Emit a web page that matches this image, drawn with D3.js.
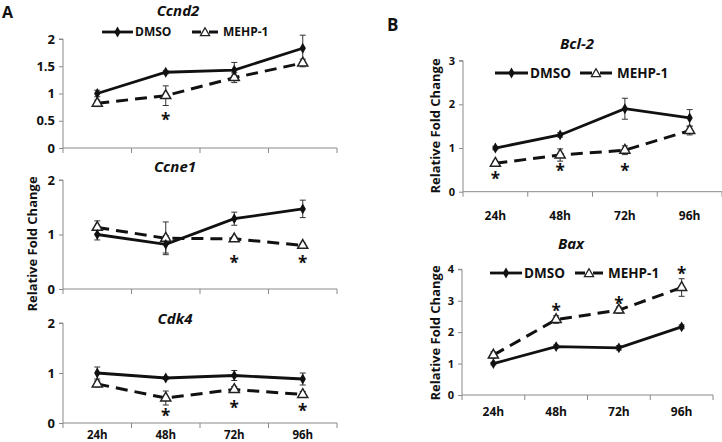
<!DOCTYPE html>
<html><head><meta charset="utf-8">
<script src="https://cdn.jsdelivr.net/npm/d3@7/dist/d3.min.js"></script>
<style>body{margin:0;background:#fff}svg{display:block;font-family:"Open Sans",sans-serif}</style>
</head><body><svg id="c" width="722" height="442"></svg>
<script>
const timepoints = ["24h","48h","72h","96h"];
const seriesNames = ["DMSO","MEHP-1"];

const ccnd2Dmso = [1.0, 1.39, 1.43, 1.83];
const ccnd2DmsoErr = [0.06, 0.03, 0.14, 0.24];
const ccnd2Mehp = [0.82, 0.96, 1.29, 1.56];
const ccnd2MehpErr = [0.06, 0.18, 0.09, 0.07];
const ccnd2Star = [null, 0.57, null, null];
const ccnd2Ticks = [0, 0.5, 1, 1.5, 2];

const ccne1Dmso = [1.0, 0.82, 1.29, 1.47];
const ccne1DmsoErr = [0.1, 0.16, 0.12, 0.16];
const ccne1Mehp = [1.13, 0.93, 0.92, 0.8];
const ccne1MehpErr = [0.12, 0.3, 0.04, 0.04];
const ccne1Star = [null, null, 0.53, 0.53];
const ccne1Ticks = [0, 1, 2];

const cdk4Dmso = [1.0, 0.9, 0.95, 0.88];
const cdk4DmsoErr = [0.12, 0.03, 0.1, 0.12];
const cdk4Mehp = [0.78, 0.5, 0.67, 0.57];
const cdk4MehpErr = [0.06, 0.14, 0.06, 0.06];
const cdk4Star = [null, 0.2, 0.36, 0.3];
const cdk4Ticks = [0, 1, 2];

const bcl2Dmso = [1.0, 1.3, 1.9, 1.69];
const bcl2DmsoErr = [0.04, 0.05, 0.24, 0.19];
const bcl2Mehp = [0.65, 0.84, 0.95, 1.4];
const bcl2MehpErr = [0.05, 0.14, 0.1, 0.1];
const bcl2Star = [0.36, 0.54, 0.54, null];
const bcl2Ticks = [0, 1, 2, 3];

const baxDmso = [1.0, 1.54, 1.5, 2.17];
const baxDmsoErr = [0.04, 0.05, 0.07, 0.06];
const baxMehp = [1.27, 2.4, 2.7, 3.42];
const baxMehpErr = [0.1, 0.12, 0.1, 0.28];
const baxStar = [null, 2.78, 3.0, 3.93];
const baxTicks = [0, 1, 2, 3, 4];

const svg = d3.select("#c");
const AX = "#8a8a8a";

function panel(o) {
  const g = svg.append("g");
  const x = d3.scaleBand().domain(timepoints).range([o.x0, o.x1]);
  const y = d3.scaleLinear().domain([0, o.ymax]).range([o.yb, o.yt]);
  const ya = g.append("g").attr("transform", `translate(${o.x0},0)`)
    .call(d3.axisLeft(y).tickValues(o.ticks).tickSize(4).tickPadding(4).tickFormat(d3.format("~g")));
  ya.select(".domain").attr("stroke", AX).attr("d", `M-4,${o.yt}H0V${o.yb}`);
  ya.selectAll(".tick line").attr("stroke", AX);
  ya.selectAll("text").attr("font-size", o.tfs).attr("font-weight", "bold").attr("fill", "#111").attr("font-family", "Open Sans");
  const xa = g.append("g").attr("transform", `translate(0,${o.yb})`);
  xa.append("line").attr("x1", o.x0).attr("x2", o.x1).attr("stroke", AX);
  const bounds = [o.x0].concat(timepoints.map(t => x(t) + x.bandwidth()));
  xa.selectAll("line.tk").data(bounds).enter().append("line").attr("class", "tk")
    .attr("x1", d => d).attr("x2", d => d).attr("y1", 0).attr("y2", 5).attr("stroke", AX);
  if (o.xlabels) {
    xa.selectAll("text").data(timepoints).enter().append("text")
      .attr("x", d => x(d) + x.bandwidth() / 2).attr("y", o.xly)
      .attr("text-anchor", "middle").attr("font-size", o.xfs || 12).attr("font-weight", "bold").attr("fill", "#111")
      .text(d => d);
  }
  g.append("text").attr("x", o.tx).attr("y", o.ty).attr("text-anchor", "middle")
    .attr("font-size", 15).attr("font-weight", "bold").attr("font-style", "italic").attr("fill", "#111").text(o.title);
  const cx = d => x(d) + x.bandwidth() / 2;
  const mk = (vals, errs) => timepoints.map((t, i) => ({t, v: vals[i], e: errs[i]}));
  const dm = mk(o.dmso, o.dmsoErr), me = mk(o.mehp, o.mehpErr);
  const line = d3.line().x(d => cx(d.t)).y(d => y(d.v));
  g.append("path").attr("d", line(me)).attr("fill", "none").attr("stroke", "#111").attr("stroke-width", 3).attr("stroke-dasharray", "12,7");
  g.append("path").attr("d", line(dm)).attr("fill", "none").attr("stroke", "#111").attr("stroke-width", 2.8);
  [dm, me].forEach(s => {
    const eb = g.append("g").selectAll("g").data(s).enter().append("g").attr("stroke", "#333").attr("stroke-width", 1);
    eb.append("line").attr("x1", d => cx(d.t)).attr("x2", d => cx(d.t)).attr("y1", d => y(d.v + d.e)).attr("y2", d => y(d.v - d.e));
    eb.append("line").attr("x1", d => cx(d.t) - 3).attr("x2", d => cx(d.t) + 3).attr("y1", d => y(d.v + d.e)).attr("y2", d => y(d.v + d.e));
    eb.append("line").attr("x1", d => cx(d.t) - 3).attr("x2", d => cx(d.t) + 3).attr("y1", d => y(d.v - d.e)).attr("y2", d => y(d.v - d.e));
  });
  const tri = d3.symbol().type(d3.symbolTriangle).size(44);
  const triL = d3.symbol().type(d3.symbolTriangle).size(36);
  const dia = d3.symbol().type(d3.symbolDiamond).size(34);
  g.selectAll("path.tri").data(me).enter().append("path").attr("class", "tri")
    .attr("d", tri).attr("transform", d => `translate(${cx(d.t)},${y(d.v)})`)
    .attr("fill", "#fff").attr("stroke", "#222").attr("stroke-width", 1.5);
  g.selectAll("path.dia").data(dm).enter().append("path").attr("class", "dia")
    .attr("d", dia).attr("transform", d => `translate(${cx(d.t)},${y(d.v)})`).attr("fill", "#111");
  g.selectAll("text.st").data(timepoints.map((t, i) => ({t, s: o.star[i]})).filter(d => d.s != null))
    .enter().append("text").attr("class", "st").attr("x", d => cx(d.t)).attr("y", d => y(d.s) + 9)
    .attr("text-anchor", "middle").attr("font-size", 17).attr("font-weight", "bold").attr("fill", "#111").text("*");
  if (o.leg) {
    const L = o.leg;
    const lg = g.append("g").attr("transform", `translate(0,${L.y})`);
    lg.append("line").attr("x1", L.d0).attr("x2", L.d1).attr("stroke", "#111").attr("stroke-width", 2.8);
    lg.append("path").attr("d", dia).attr("transform", `translate(${(L.d0 + L.d1) / 2},0)`).attr("fill", "#111");
    lg.append("text").attr("x", L.d1 + 2).attr("y", L.fs * 0.36).attr("font-size", L.fs).attr("font-weight", "bold").attr("fill", "#111").text(seriesNames[0]);
    const mc = (L.m0 + L.m1) / 2;
    lg.append("line").attr("x1", L.m0).attr("x2", mc - 4).attr("stroke", "#111").attr("stroke-width", 3);
    lg.append("line").attr("x1", mc + 4).attr("x2", L.m1).attr("stroke", "#111").attr("stroke-width", 3);
    lg.append("path").attr("d", triL).attr("transform", `translate(${mc},1)`).attr("fill", "#fff").attr("stroke", "#222").attr("stroke-width", 1.3);
    lg.append("text").attr("x", L.m1 + 5).attr("y", L.fs * 0.36).attr("font-size", L.fs).attr("font-weight", "bold").attr("fill", "#111").text(seriesNames[1]);
  }
  if (o.ylab) {
    g.append("text").attr("transform", `translate(${o.ylab.x},${o.ylab.y}) rotate(-90)`)
      .attr("text-anchor", "middle").attr("font-size", 13).attr("font-weight", "bold").attr("fill", "#111")
      .text("Relative Fold Change");
  }
}

panel({x0: 63, x1: 337, yb: 148, yt: 39, ymax: 2, ticks: ccnd2Ticks, tfs: 13, title: "Ccnd2", tx: 178, ty: 16,
  dmso: ccnd2Dmso, dmsoErr: ccnd2DmsoErr, mehp: ccnd2Mehp, mehpErr: ccnd2MehpErr, star: ccnd2Star,
  leg: {y: 32, d0: 102, d1: 133, m0: 192, m1: 218, fs: 12}});
panel({x0: 63, x1: 337, yb: 289, yt: 180, ymax: 2, ticks: ccne1Ticks, tfs: 13, title: "Ccne1", tx: 175, ty: 172,
  dmso: ccne1Dmso, dmsoErr: ccne1DmsoErr, mehp: ccne1Mehp, mehpErr: ccne1MehpErr, star: ccne1Star,
  ylab: {x: 37, y: 244}});
panel({x0: 63, x1: 337, yb: 423, yt: 323, ymax: 2, ticks: cdk4Ticks, tfs: 13, title: "Cdk4", tx: 175, ty: 324,
  dmso: cdk4Dmso, dmsoErr: cdk4DmsoErr, mehp: cdk4Mehp, mehpErr: cdk4MehpErr, star: cdk4Star,
  xlabels: true, xly: 16, xfs: 11.5});
panel({x0: 463, x1: 722, yb: 191.7, yt: 60.7, ymax: 3, ticks: bcl2Ticks, tfs: 11, title: "Bcl-2", tx: 577, ty: 49,
  dmso: bcl2Dmso, dmsoErr: bcl2DmsoErr, mehp: bcl2Mehp, mehpErr: bcl2MehpErr, star: bcl2Star,
  xlabels: true, xly: 28, leg: {y: 73, d0: 495, d1: 528, m0: 580, m1: 612, fs: 13.5},
  ylab: {x: 440, y: 126}});
panel({x0: 462, x1: 713, yb: 395, yt: 269.3, ymax: 4, ticks: baxTicks, tfs: 11, title: "Bax", tx: 571, ty: 249,
  dmso: baxDmso, dmsoErr: baxDmsoErr, mehp: baxMehp, mehpErr: baxMehpErr, star: baxStar,
  xlabels: true, xly: 21, leg: {y: 273, d0: 490, d1: 522, m0: 575, m1: 603, fs: 13.5},
  ylab: {x: 440, y: 333}});

svg.append("text").attr("x", 2).attr("y", 18).attr("font-size", 16).attr("font-weight", "bold").attr("fill", "#111").text("A");
svg.append("text").attr("x", 387).attr("y", 31).attr("font-size", 17).attr("font-weight", "bold").attr("fill", "#111").text("B");
</script></body></html>
